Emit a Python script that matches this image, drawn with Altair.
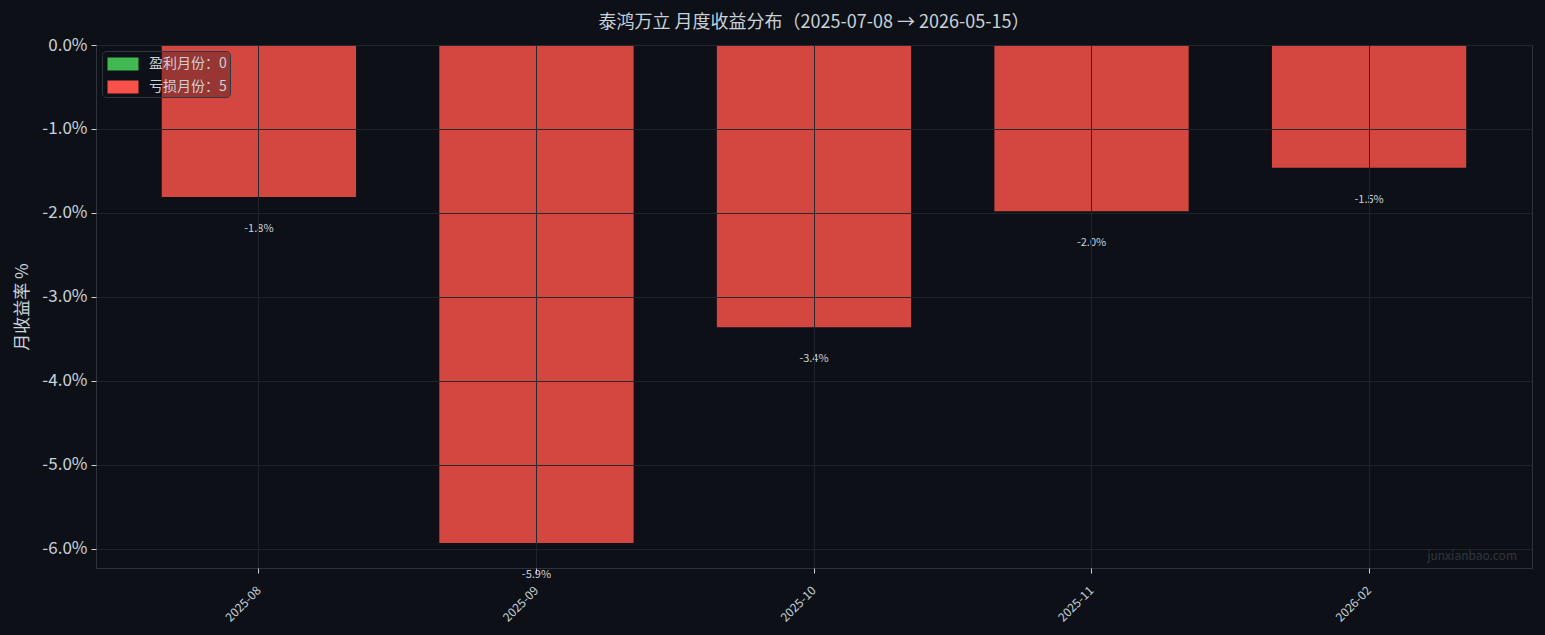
import altair as alt
import pandas as pd

months = ["2025-08", "2025-09", "2025-10", "2025-11", "2026-02"]
returns = [-1.81, -5.93, -3.36, -1.98, -1.46]
kinds = ["亏损月份：5"] * 5
legend_labels = ["盈利月份：0", "亏损月份：5"]
legend_colors = ["#3fb950", "#f85149"]
y_ticks = [0, -1, -2, -3, -4, -5, -6]
title_text = "泰鸿万立 月度收益分布（2025-07-08 → 2026-05-15）"
watermark = ["junxianbao.com"]

FONT = "Noto Sans CJK SC"
TXT = "#c9d1d9"
BG = "#0d1117"
GRID = "#21262d"

# dark page background around the chart (page margin)
try:
    import altair.utils.html as _h

    _std = _h.TEMPLATES["standard"]

    class _DarkPage:
        def render(self, *a, **kw):
            out = _std.render(*a, **kw)
            return out.replace(
                "<style>", "<style>\n    html, body { background: #0d1117; }", 1
            )

    _h.TEMPLATES["standard"] = _DarkPage()
except Exception:
    pass

df = pd.DataFrame({"month": months, "ret": returns, "kind": kinds})

W, H = 1436, 523

x_enc = alt.X(
    "month:N",
    sort=months,
    scale=alt.Scale(paddingInner=0.3, paddingOuter=0.237),
    axis=alt.Axis(
        title=None,
        labelAngle=-45,
        labelAlign="right",
        labelBaseline="middle",
        labelFontSize=12,
        labelColor=TXT,
        labelFont=FONT,
        labelPadding=15,
        tickColor=TXT,
        tickSize=5,
        bandPosition=0.5,
        grid=True,
        gridColor=GRID,
        gridOpacity=0.95,
        domain=False,
        zindex=1,
    ),
)

y_enc = alt.Y(
    "ret:Q",
    scale=alt.Scale(domain=[-6.2265, 0], nice=False, zero=True),
    axis=alt.Axis(
        title="月收益率 %",
        titleColor=TXT,
        titleFont=FONT,
        titleFontSize=17,
        titleFontWeight="normal",
        titlePadding=10,
        values=y_ticks,
        labelExpr="replace(format(datum.value, '.1f'), '\u2212', '-') + '%'",
        labelFontSize=17,
        labelColor=TXT,
        labelFont=FONT,
        labelPadding=4,
        tickColor=TXT,
        tickSize=5,
        grid=True,
        gridColor=GRID,
        gridOpacity=0.95,
        domain=False,
        zindex=1,
    ),
)

bars = alt.Chart(df).mark_bar(opacity=0.85).encode(
    x=x_enc,
    y=y_enc,
    color=alt.Color(
        "kind:N",
        scale=alt.Scale(domain=legend_labels, range=legend_colors),
        legend=alt.Legend(
            title=None,
            orient="top-left",
            offset=6,
            padding=3,
            fillColor="rgba(13,17,23,0.3)",
            strokeColor="#30363d",
            cornerRadius=4,
            symbolType="M-1.55,-0.65H1.55V0.65H-1.55Z",
            symbolSize=400,
            symbolStrokeWidth=0,
            symbolOpacity=1,
            symbolOffset=8,
            labelOffset=16,
            labelColor=TXT,
            labelFont=FONT,
            labelFontSize=14,
            rowPadding=6,
        ),
    ),
)

labels = alt.Chart(df).transform_calculate(
    lab="replace(format(datum.ret, '.1f'), '\u2212', '-') + '%'"
).mark_text(
    dy=32, baseline="middle", align="center", fontSize=11, font=FONT, color=TXT
).encode(
    x=alt.X("month:N", sort=months),
    y=alt.Y("ret:Q"),
    text="lab:N",
)

wm = alt.Chart(pd.DataFrame({"t": watermark})).mark_text(
    align="right", baseline="middle", fontSize=12, font=FONT, color="#30363d"
).encode(x=alt.value(W - 15), y=alt.value(H - 12), text="t:N")

chart = (
    alt.layer(bars, labels, wm)
    .properties(
        width=W,
        height=H,
        title=alt.TitleParams(
            title_text,
            color=TXT,
            font=FONT,
            fontSize=18,
            fontWeight="normal",
            anchor="middle",
            offset=4,
        ),
        autosize=alt.AutoSizeParams(type="none"),
        padding={"left": 88, "top": 37, "right": 5, "bottom": 62},
        background=BG,
    )
    .configure_view(stroke="#2d333b", strokeWidth=1)
)

chart.save("out.html", embed_options={"renderer": "svg", "actions": False})
